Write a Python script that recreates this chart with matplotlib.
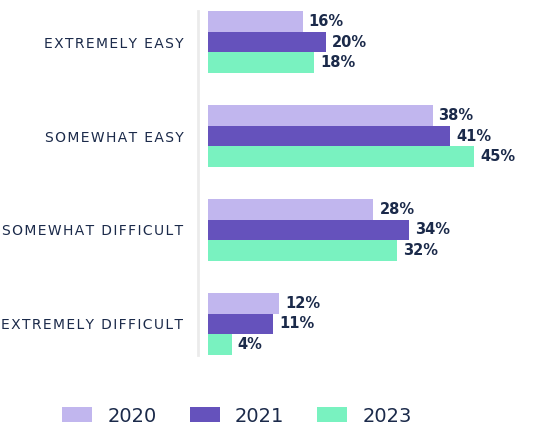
import matplotlib.pyplot as plt
import numpy as np

categories = ["EXTREMELY EASY", "SOMEWHAT EASY", "SOMEWHAT DIFFICULT", "EXTREMELY DIFFICULT"]
years = ["2020", "2021", "2023"]
v2020 = [16, 38, 28, 12]
v2021 = [20, 41, 34, 11]
v2023 = [18, 45, 32, 4]
colors = ["#C1B6EE", "#6552BC", "#79F2C0"]
navy = "#1B2A4A"

# fake letter spacing with hair spaces
def spaced(s):
    return "\u200a".join(s)

fig = plt.figure(figsize=(5.39, 4.29), dpi=100)
ax = fig.add_axes([198/539, 1-355/429, 1-198/539, 344/429])

y = np.arange(len(categories))
h = 0.22
series = [v2020, v2021, v2023]
for i, (vals, c) in enumerate(zip(series, colors)):
    ypos = y + (i-1)*h
    ax.barh(ypos, vals, height=h, color=c, label=years[i])
    for yy, v in zip(ypos, vals):
        ax.text(v+1.0, yy, f"{v}%", va="center", ha="left", fontsize=10.5,
                fontweight="bold", color=navy)

ax.set_xlim(-1.69, 56)
ax.set_ylim(3.33, -0.33)
ax.set_yticks(y)
ax.set_yticklabels([spaced(c) for c in categories], fontsize=10, color=navy)
ax.tick_params(axis="y", length=0, pad=10.5)
ax.set_xticks([])
for s in ["top", "right", "bottom"]:
    ax.spines[s].set_visible(False)
ax.spines["left"].set_color("#EBEBEB")
ax.spines["left"].set_linewidth(2)

fig.legend(loc="center", bbox_to_anchor=(237/539, 1-416/429), ncol=3, frameon=False,
           fontsize=14, handlelength=1.55, handleheight=0.82, handletextpad=0.77,
           columnspacing=1.7, labelcolor=navy)

fig.savefig("out.png", dpi=100)
